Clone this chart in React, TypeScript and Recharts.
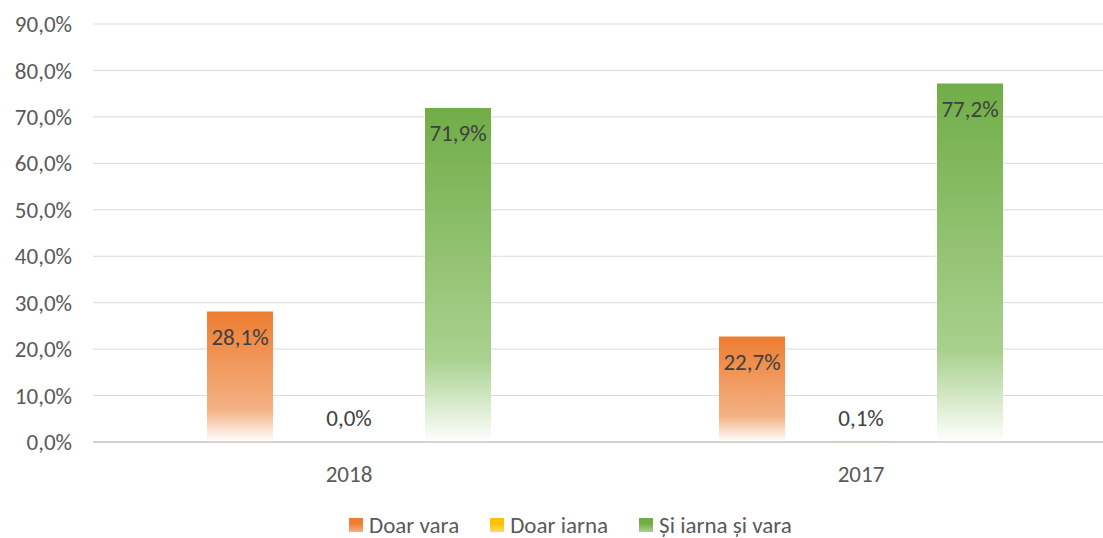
import React from 'react';
import { BarChart, Bar, XAxis, YAxis, CartesianGrid, Legend, LabelList } from 'recharts';

const years = ['2018', '2017'];
const doarVara = [28.1, 22.7];
const doarIarna = [0.0, 0.1];
const siIarnaSiVara = [71.9, 77.2];
const yTicks = [0, 10, 20, 30, 40, 50, 60, 70, 80, 90];

const seriesInfo = [
  { key: 'vara', name: 'Doar vara', color: '#ED7D31', light: '#F4B183', grad: 'gOrange' },
  { key: 'iarna', name: 'Doar iarna', color: '#FFC000', light: '#FFD966', grad: 'gYellow' },
  { key: 'ambele', name: 'Și iarna și vara', color: '#70AD47', light: '#A9D18E', grad: 'gGreen' },
];

const data = years.map((year, i) => ({
  year,
  vara: doarVara[i],
  iarna: doarIarna[i],
  ambele: siIarnaSiVara[i],
}));

const FONT = 'Carlito, Lato, sans-serif';
const FS = 23;
const pct = (v: number) => v.toFixed(1).replace('.', ',') + '%';

function LegendBox() {
  return (
    <div style={{ display: 'flex', justifyContent: 'flex-start', paddingLeft: 349, height: 24, alignItems: 'center', fontFamily: FONT, fontSize: FS, color: '#595959', width: 1103, boxSizing: 'border-box' }}>
      {seriesInfo.map((s) => (
        <div key={s.key} style={{ display: 'flex', alignItems: 'center', marginRight: 31 }}>
          <span style={{ width: 14, height: 14, marginRight: 6, background: `linear-gradient(${s.color}, ${s.color} 40%, ${s.light})` }} />
          <span>{s.name}</span>
        </div>
      ))}
    </div>
  );
}

export default function App() {
  return (
    <div style={{ position: 'absolute', left: 0, top: 0, width: 1103, height: 538, overflow: 'hidden', background: '#fff' }}>
      <BarChart width={1117} height={538} data={data} margin={{ top: 24, right: 0, left: 0, bottom: 1 }} barSize={66} barGap={43}>
        <defs>
          {seriesInfo.map((s) => (
            <linearGradient key={s.grad} id={s.grad} x1="0" y1="0" x2="0" y2="1">
              <stop offset="0" stopColor={s.color} />
              <stop offset="0.75" stopColor={s.light} />
              <stop offset="1" stopColor="#ffffff" />
            </linearGradient>
          ))}
        </defs>
        <CartesianGrid vertical={false} stroke="#d9d9d9" />
        <XAxis
          dataKey="year"
          height={71}
          tickLine={false}
          axisLine={{ stroke: '#c8c8c8', strokeWidth: 1.5 }}
          tickMargin={18}
          tick={{ fill: '#595959', fontSize: FS, fontFamily: FONT }}
        />
        <YAxis
          width={93}
          domain={[0, 90]}
          ticks={yTicks}
          tickFormatter={pct}
          tickLine={false}
          axisLine={false}
          tickMargin={15}
          tick={{ fill: '#595959', fontSize: FS, fontFamily: FONT }}
        />
        <Legend verticalAlign="bottom" content={() => <LegendBox />} />
        {seriesInfo.map((s) => (
          <Bar key={s.key} dataKey={s.key} name={s.name} fill={`url(#${s.grad})`} minPointSize={0.01} isAnimationActive={false}>
            <LabelList
              dataKey={s.key}
              position={s.key === 'iarna' ? 'top' : 'insideTop'}
              offset={s.key === 'iarna' ? 16 : 17}
              formatter={(v: number) => pct(v)}
              style={{ fill: '#404040', fontSize: FS, fontFamily: FONT }}
            />
          </Bar>
        ))}
      </BarChart>
    </div>
  );
}
